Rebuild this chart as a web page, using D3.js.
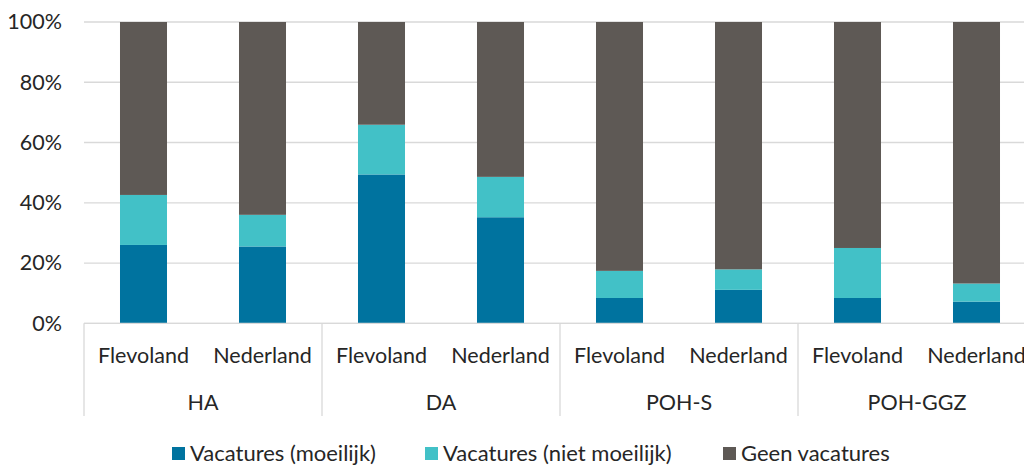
<!DOCTYPE html>
<html>
<head>
<meta charset="utf-8">
<script src="https://cdn.jsdelivr.net/npm/d3@7"></script>
<style>
  body { margin: 0; background: #fff; }
  svg { font-family: Lato, "Noto Sans", sans-serif; }
</style>
</head>
<body>
<div id="chart"></div>
<script>
var groups = ["HA", "DA", "POH-S", "POH-GGZ"];
var regions = ["Flevoland", "Nederland"];
var seriesNames = ["Vacatures (moeilijk)", "Vacatures (niet moeilijk)", "Geen vacatures"];
var colors = ["#00739F", "#42C1C7", "#5E5955"];

// order: HA-Fl, HA-Nl, DA-Fl, DA-Nl, POHS-Fl, POHS-Nl, POHGGZ-Fl, POHGGZ-Nl
var moeilijk    = [26.0, 25.5, 49.4, 35.2, 8.4, 11.1, 8.4, 7.2];
var nietMoeilijk = [16.6, 10.5, 16.5, 13.4, 9.0, 6.8, 16.6, 6.0];
var geen        = [57.4, 64.0, 34.1, 51.4, 82.6, 82.1, 75.0, 86.8];

var yTicks = [0, 20, 40, 60, 80, 100];

var width = 1024, height = 465;
var margin = {top: 22, left: 84, bottom: 142};
var plotRight = 1036;
var plotBottom = height - margin.bottom + 0.3;
var fontSize = 21.5;

var svg = d3.select("#chart").append("svg")
  .attr("width", width)
  .attr("height", height);

var rows = [];
groups.forEach(function(g, gi) {
  regions.forEach(function(r, ri) {
    var i = gi * 2 + ri;
    rows.push({key: g + "|" + r, group: g, region: r, v0: moeilijk[i], v1: nietMoeilijk[i], v2: geen[i]});
  });
});

var x = d3.scaleBand()
  .domain(rows.map(function(d) { return d.key; }))
  .range([margin.left, plotRight])
  .paddingInner(0.605)
  .paddingOuter(0.3025);

var y = d3.scaleLinear().domain([0, 100]).range([plotBottom, margin.top]);

// gridlines
svg.append("g")
  .selectAll("line")
  .data(yTicks)
  .enter().append("line")
  .attr("x1", margin.left)
  .attr("x2", width)
  .attr("y1", function(d) { return y(d); })
  .attr("y2", function(d) { return y(d); })
  .attr("stroke", "#d9d9d9")
  .attr("stroke-width", 1.3);

// y labels
var yAxis = svg.append("g")
  .attr("transform", "translate(" + margin.left + ",0)")
  .call(d3.axisLeft(y).tickValues(yTicks).tickSize(0).tickPadding(22).tickFormat(function(d) { return d + "%"; }));
yAxis.select(".domain").remove();
yAxis.selectAll("text")
  .attr("font-size", fontSize)
  .attr("fill", "#262626")
  .attr("font-family", "Lato, 'Noto Sans', sans-serif");

var stack = d3.stack().keys(["v0", "v1", "v2"]);
var stacked = stack(rows);

svg.append("g")
  .selectAll("g")
  .data(stacked)
  .enter().append("g")
  .attr("fill", function(d, i) { return colors[i]; })
  .selectAll("rect")
  .data(function(d) { return d; })
  .enter().append("rect")
  .attr("x", function(d) { return x(d.data.key); })
  .attr("width", x.bandwidth())
  .attr("y", function(d) { return y(d[1]); })
  .attr("height", function(d) { return y(d[0]) - y(d[1]); });

// bottom axis line
svg.append("line")
  .attr("x1", margin.left).attr("x2", width)
  .attr("y1", plotBottom).attr("y2", plotBottom)
  .attr("stroke", "#d9d9d9").attr("stroke-width", 1.3);

// group separators
var groupWidth = (plotRight - margin.left) / groups.length;
svg.append("g")
  .selectAll("line")
  .data(d3.range(groups.length + 1))
  .enter().append("line")
  .attr("x1", function(d) { return margin.left + d * groupWidth; })
  .attr("x2", function(d) { return margin.left + d * groupWidth; })
  .attr("y1", plotBottom)
  .attr("y2", 416)
  .attr("stroke", "#d9d9d9")
  .attr("stroke-width", 1.3);

// region labels
svg.append("g")
  .selectAll("text")
  .data(rows)
  .enter().append("text")
  .attr("x", function(d) { return x(d.key) + x.bandwidth() / 2; })
  .attr("y", 363)
  .attr("text-anchor", "middle")
  .attr("font-size", fontSize)
  .attr("fill", "#262626")
  .text(function(d) { return d.region; });

// group labels
svg.append("g")
  .selectAll("text")
  .data(groups)
  .enter().append("text")
  .attr("x", function(d, i) { return margin.left + (i + 0.5) * groupWidth; })
  .attr("y", 410)
  .attr("text-anchor", "middle")
  .attr("font-size", fontSize)
  .attr("fill", "#262626")
  .text(function(d) { return d; });

// legend
var legendX = [172, 425, 723];
var legend = svg.append("g")
  .selectAll("g")
  .data(seriesNames)
  .enter().append("g")
  .attr("transform", function(d, i) { return "translate(" + legendX[i] + ",447)"; });
legend.append("rect")
  .attr("width", 13).attr("height", 13)
  .attr("fill", function(d, i) { return colors[i]; });
legend.append("text")
  .attr("x", 18)
  .attr("y", 14)
  .attr("font-size", 22)
  .attr("fill", "#262626")
  .text(function(d) { return d; });
</script>
</body>
</html>
